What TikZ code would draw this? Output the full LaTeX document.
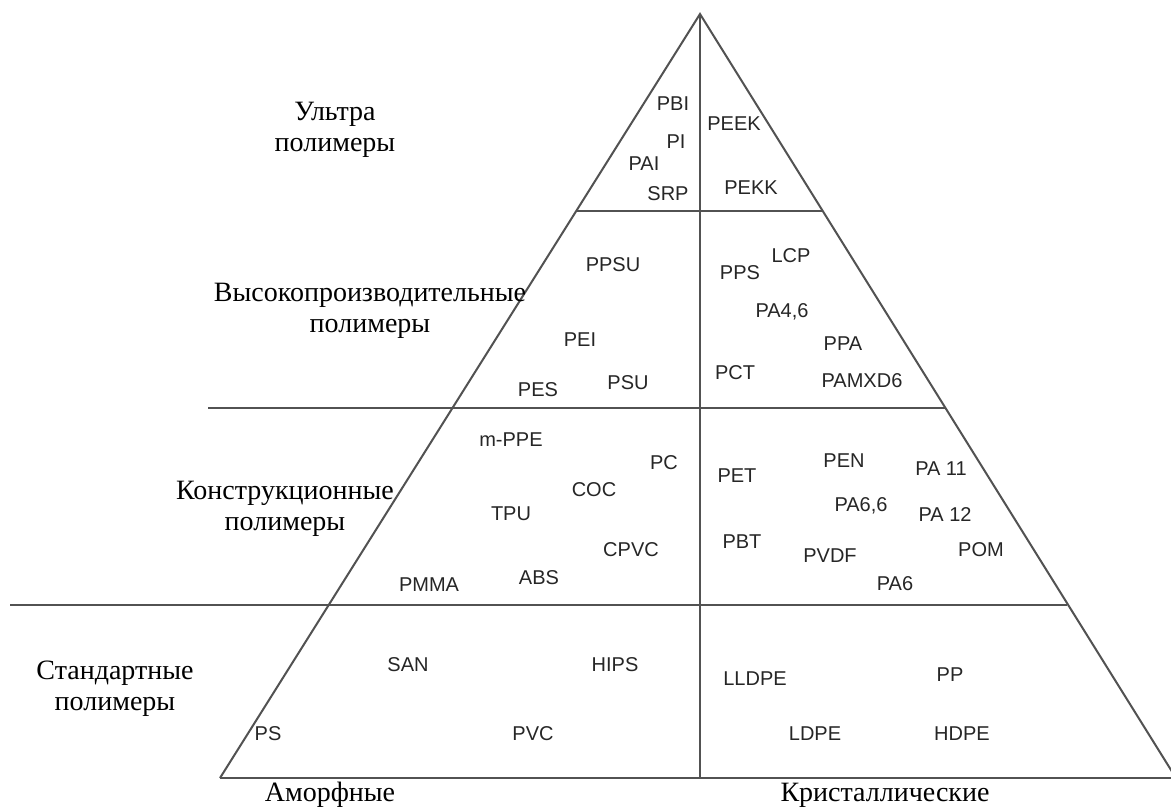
\documentclass[tikz,border=0pt]{standalone}
\usepackage{fontspec}
\setmainfont{Liberation Serif}
\newfontfamily\labfont{Liberation Sans}
\begin{document}
\begin{tikzpicture}[x=0.75pt,y=-0.75pt,
  edge/.style={draw=black!68,line width=1.5pt},
  poly/.style={font=\labfont\fontsize{15}{18}\selectfont,text=black!85,inner sep=0pt},
  cat/.style={font=\fontsize{21}{23}\selectfont,align=center,inner sep=0pt,text=black}]
\useasboundingbox (0,0) rectangle (1171,807);
\fill[white] (0,0) rectangle (1171,807);
% frame coordinates
\coordinate (apex) at (700,14);
\coordinate (bl) at (220,778);
\coordinate (br) at (1176,778);
\coordinate (bm) at (700,778);
\coordinate (be) at (1171,778);
\coordinate (h1l) at (576,211);
\coordinate (h1r) at (822,211);
\coordinate (h2l) at (208,408);
\coordinate (h2r) at (945,408);
\coordinate (h3l) at (10,605);
\coordinate (h3r) at (1067,605);
\draw[edge] (bl) -- (apex) -- (br);
\draw[edge] (bl) -- (be);
\draw[edge] (apex) -- (bm);
\draw[edge] (h1l) -- (h1r);
\draw[edge] (h2l) -- (h2r);
\draw[edge] (h3l) -- (h3r);
% category labels
\node[cat] (ultra) at (335,130) {Ультра\\полимеры};
\node[cat] (high) at (370,311) {Высокопроизводительные\\полимеры};
\node[cat] (constr) at (285,509) {Конструкционные\\полимеры};
\node[cat] (std) at (115,689) {Стандартные\\полимеры};
\node[cat] (amorph) at (330,795) {Аморфные};
\node[cat] (cryst) at (885,795) {Кристаллические};
% ultra
\node[poly] (pbi) at (673,104) {PBI};
\node[poly] (pi) at (676,142) {PI};
\node[poly] (pai) at (644,164) {PAI};
\node[poly] (srp) at (668,194) {SRP};
\node[poly] (peek) at (734,124) {PEEK};
\node[poly] (pekk) at (751,188) {PEKK};
% high performance
\node[poly] (ppsu) at (613,265) {PPSU};
\node[poly] (pei) at (580,340) {PEI};
\node[poly] (pes) at (538,390) {PES};
\node[poly] (psu) at (628,383) {PSU};
\node[poly] (lcp) at (791,256) {LCP};
\node[poly] (pps) at (740,273) {PPS};
\node[poly] (pa46) at (782,312) {PA4,6};
\node[poly] (ppa) at (843,344) {PPA};
\node[poly] (pct) at (735,373) {PCT};
\node[poly] (pamxd) at (862,381) {PAMXD6};
% engineering
\node[poly] (mppe) at (511,440) {m-PPE};
\node[poly] (pc) at (664,463) {PC};
\node[poly] (coc) at (594,490) {COC};
\node[poly] (tpu) at (511,514) {TPU};
\node[poly] (cpvc) at (631,550) {CPVC};
\node[poly] (abs) at (539,578) {ABS};
\node[poly] (pmma) at (429,585) {PMMA};
\node[poly] (pet) at (737,476) {PET};
\node[poly] (pen) at (844,461) {PEN};
\node[poly] (pa11) at (941,469) {PA 11};
\node[poly] (pa66) at (861,506) {PA6,6};
\node[poly] (pa12) at (945,515) {PA 12};
\node[poly] (pbt) at (742,542) {PBT};
\node[poly] (pvdf) at (830,556) {PVDF};
\node[poly] (pom) at (981,550) {POM};
\node[poly] (pa6) at (895,584) {PA6};
% standard
\node[poly] (san) at (408,665) {SAN};
\node[poly] (hips) at (615,665) {HIPS};
\node[poly] (ps) at (268,734) {PS};
\node[poly] (pvc) at (533,734) {PVC};
\node[poly] (lldpe) at (755,679) {LLDPE};
\node[poly] (pp) at (950,675) {PP};
\node[poly] (ldpe) at (815,734) {LDPE};
\node[poly] (hdpe) at (962,734) {HDPE};
\end{tikzpicture}
\end{document}
